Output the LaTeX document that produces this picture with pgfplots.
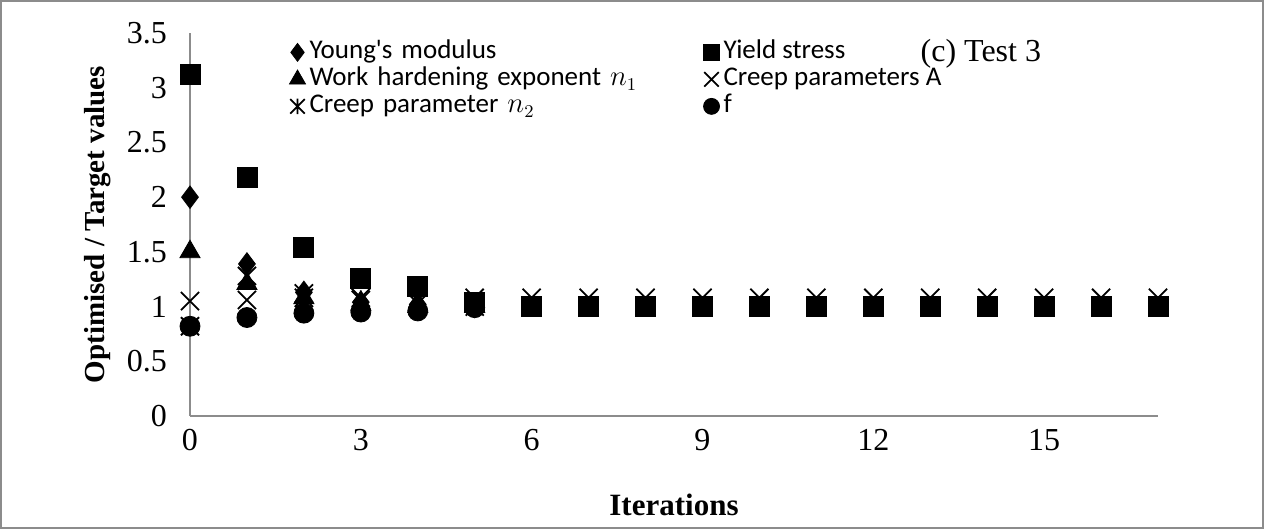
\documentclass[border=0pt]{standalone}
\usepackage{pgfplots}
\pgfplotsset{compat=1.18}
\usepackage{fontspec}
\setmainfont{Liberation Serif}
\newfontfamily\carlito{Carlito}
\pgfdeclareplotmark{xstar}{%
  \pgfpathmoveto{\pgfqpoint{-.70710678\pgfplotmarksize}{-.70710678\pgfplotmarksize}}%
  \pgfpathlineto{\pgfqpoint{.70710678\pgfplotmarksize}{.70710678\pgfplotmarksize}}%
  \pgfpathmoveto{\pgfqpoint{-.70710678\pgfplotmarksize}{.70710678\pgfplotmarksize}}%
  \pgfpathlineto{\pgfqpoint{.70710678\pgfplotmarksize}{-.70710678\pgfplotmarksize}}%
  \pgfpathmoveto{\pgfqpoint{0pt}{-.75\pgfplotmarksize}}%
  \pgfpathlineto{\pgfqpoint{0pt}{.75\pgfplotmarksize}}%
  \pgfusepathqstroke}
\begin{document}
\begin{tikzpicture}
\path[use as bounding box] (-95pt,-56.5pt) rectangle (537pt,208pt);
\draw[black!45, line width=0.8pt] (-94.4pt,-55.9pt) rectangle (536.4pt,207.4pt);
\begin{axis}[
  at={(0pt,0pt)}, anchor=origin,
  width=484pt, height=191.5pt, scale only axis,
  xmin=0, xmax=17, ymin=0, ymax=3.5,
  axis x line*=bottom, axis y line*=left,
  axis line style={black!45, line width=0.9pt, -},
  xtick={0,3,6,9,12,15}, ytick={0,0.5,1,1.5,2,2.5,3,3.5},
  major tick length=0pt,
  tick label style={font=\fontsize{16}{19}\selectfont, black},
  yticklabel style={xshift=-8pt},
  xticklabel style={yshift=-3pt},
  /pgf/number format/assume math mode=true,
  clip=false,
  legend columns=2,
  legend cell align=left,
  legend style={draw=none, fill=none, at={(axis cs:1.74,3.45)}, anchor=north west,
    font=\fontsize{13.5}{15}\selectfont\carlito,
    nodes={inner ysep=0.5pt, text height=9.5pt, text depth=3pt},
    /tikz/column 2/.style={text width=195pt, align=left},
    column sep=0pt, row sep=0pt, inner sep=0pt},
  legend image code/.code={\draw[#1, every mark/.append style={scale=0.8}] plot coordinates {(4pt,0pt)};},
]
\addplot[only marks, mark=diamond*, mark size=5.6pt, black] coordinates {
(0,2.0)(1,1.39)(2,1.13)(3,1.04)(4,1.02)(5,1.0)};
\addlegendentry{Young's modulus}
\addplot[only marks, mark=square*, mark size=5pt, black] coordinates {
(0,3.12)(1,2.18)(2,1.54)(3,1.26)(4,1.18)(5,1.04)(6,1.0)(7,1.0)(8,1.0)(9,1.0)(10,1.0)(11,1.0)(12,1.0)(13,1.0)(14,1.0)(15,1.0)(16,1.0)(17,1.0)};
\addlegendentry{Yield stress}
\addplot[only marks, mark=triangle*, mark size=5.8pt, black] coordinates {
(0,1.5)(1,1.21)(2,1.08)(3,1.02)(4,1.0)(5,1.0)};
\addlegendentry{Work hardening exponent $n_1$}
\addplot[only marks, mark=x, mark size=6.4pt, black, mark options={line width=0.9pt}] coordinates {
(0,1.05)(1,1.06)(2,1.08)(3,1.08)(4,1.06)(5,1.08)(6,1.08)(7,1.08)(8,1.08)(9,1.08)(10,1.08)(11,1.08)(12,1.08)(13,1.08)(14,1.08)(15,1.08)(16,1.08)(17,1.08)};
\addlegendentry{Creep parameters A}
\addplot[only marks, mark=xstar, mark size=6.4pt, black, mark options={line width=0.9pt}] coordinates {
(0,0.82)(1,1.28)(2,1.12)(3,1.06)(4,1.03)(5,1.0)};
\addlegendentry{Creep parameter $n_2$}
\addplot[only marks, mark=*, mark size=5pt, black] coordinates {
(0,0.82)(1,0.9)(2,0.94)(3,0.95)(4,0.96)(5,0.99)};
\addlegendentry{f}
\node[anchor=east, font=\fontsize{16}{19}\selectfont] at (axis cs:15.07,3.31) {(c) Test 3};
\end{axis}
\node[rotate=90, font=\fontsize{14.5}{17}\selectfont\bfseries] at (-46pt,95.75pt) {Optimised / Target values};
\node[font=\fontsize{15.5}{19}\selectfont\bfseries] at (242pt,-44.5pt) {Iterations};
\end{tikzpicture}
\end{document}
